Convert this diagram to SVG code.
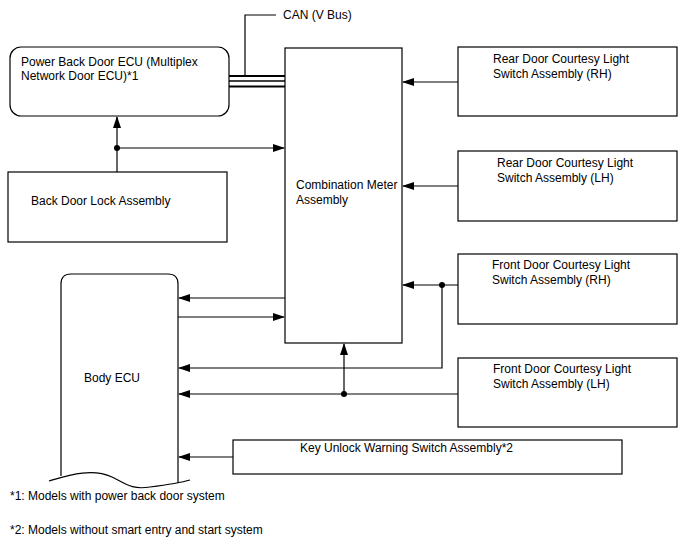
<svg xmlns="http://www.w3.org/2000/svg" width="688" height="560" viewBox="0 0 688 560">
<defs>
<style>
.box{fill:#fff;stroke:#000;stroke-width:1.2}
.t{font-family:"Liberation Sans",Arial,sans-serif;font-size:12px;fill:#000}
.ln{fill:none;stroke:#000;stroke-width:1.2}
.dot{fill:#000}
</style>
<marker id="ah" markerWidth="12" markerHeight="8" refX="11" refY="4" orient="auto" markerUnits="userSpaceOnUse">
<path d="M0,0 L12,4 L0,8 Z" fill="#000"/>
</marker>
</defs>
<rect width="688" height="560" fill="#fff"/>

<g id="power-back-door-ecu">
<rect class="box" x="10" y="47" width="219" height="69" rx="11" ry="11"/>
<text class="t" x="21" y="66">Power Back Door ECU (Multiplex</text>
<text class="t" x="21" y="80">Network Door ECU)*1</text>
</g>

<g id="back-door-lock">
<rect class="box" x="8" y="172" width="219" height="70"/>
<text class="t" x="31" y="205">Back Door Lock Assembly</text>
</g>

<g id="combination-meter">
<rect class="box" x="285" y="48" width="117" height="295"/>
<text class="t" x="296" y="189">Combination Meter</text>
<text class="t" x="296" y="204">Assembly</text>
</g>

<g id="rear-door-rh">
<rect class="box" x="458" y="47" width="219" height="69"/>
<text class="t" x="493" y="63">Rear Door Courtesy Light</text>
<text class="t" x="493" y="78">Switch Assembly (RH)</text>
</g>

<g id="rear-door-lh">
<rect class="box" x="458" y="151" width="219" height="70"/>
<text class="t" x="497" y="167">Rear Door Courtesy Light</text>
<text class="t" x="497" y="182">Switch Assembly (LH)</text>
</g>

<g id="front-door-rh">
<rect class="box" x="458" y="254" width="219" height="70"/>
<text class="t" x="492" y="269">Front Door Courtesy Light</text>
<text class="t" x="492" y="284">Switch Assembly (RH)</text>
</g>

<g id="front-door-lh">
<rect class="box" x="458" y="358" width="219" height="69"/>
<text class="t" x="493" y="373">Front Door Courtesy Light</text>
<text class="t" x="493" y="388">Switch Assembly (LH)</text>
</g>

<g id="body-ecu">
<path class="box" d="M61,476 L61,284 Q61,274 71,274 L168,274 Q178,274 178,284 L178,483"/>
<path class="ln" d="M49,481 C70,475 92,468 112,477 C126,484 132,490 150,487 C166,485 180,483 190,480"/>
<text class="t" x="84" y="382">Body ECU</text>
</g>

<g id="key-unlock-switch">
<rect class="box" x="233" y="440" width="389" height="34"/>
<text class="t" x="300" y="452">Key Unlock Warning Switch Assembly*2</text>
</g>

<g id="connectors">
<line x1="229" y1="76" x2="285" y2="76" stroke="#000" stroke-width="2"/>
<line x1="229" y1="81" x2="285" y2="81" stroke="#000" stroke-width="1.6"/>
<line x1="229" y1="86.5" x2="285" y2="86.5" stroke="#000" stroke-width="2"/>
<polyline class="ln" points="245,76 245,15 276,15"/>
<text class="t" x="283" y="19">CAN (V Bus)</text>

<line class="ln" x1="117" y1="172" x2="117" y2="117" marker-end="url(#ah)"/>
<line class="ln" x1="117" y1="148" x2="284" y2="148" marker-end="url(#ah)"/>
<circle class="dot" cx="117" cy="148" r="3"/>

<line class="ln" x1="458" y1="82" x2="403" y2="82" marker-end="url(#ah)"/>
<line class="ln" x1="458" y1="186" x2="403" y2="186" marker-end="url(#ah)"/>

<line class="ln" x1="458" y1="285" x2="403" y2="285" marker-end="url(#ah)"/>
<circle class="dot" cx="442" cy="285" r="3"/>
<polyline class="ln" points="442,285 442,368 179,368" marker-end="url(#ah)"/>

<line class="ln" x1="458" y1="394" x2="179" y2="394" marker-end="url(#ah)"/>
<line class="ln" x1="344" y1="394" x2="344" y2="344" marker-end="url(#ah)"/>
<circle class="dot" cx="344" cy="394" r="3"/>

<line class="ln" x1="285" y1="298" x2="179" y2="298" marker-end="url(#ah)"/>
<line class="ln" x1="178" y1="317" x2="284" y2="317" marker-end="url(#ah)"/>

<line class="ln" x1="233" y1="457" x2="179" y2="457" marker-end="url(#ah)"/>
</g>

<text class="t" x="10" y="500">*1: Models with power back door system</text>
<text class="t" x="10" y="534">*2: Models without smart entry and start system</text>
</svg>
